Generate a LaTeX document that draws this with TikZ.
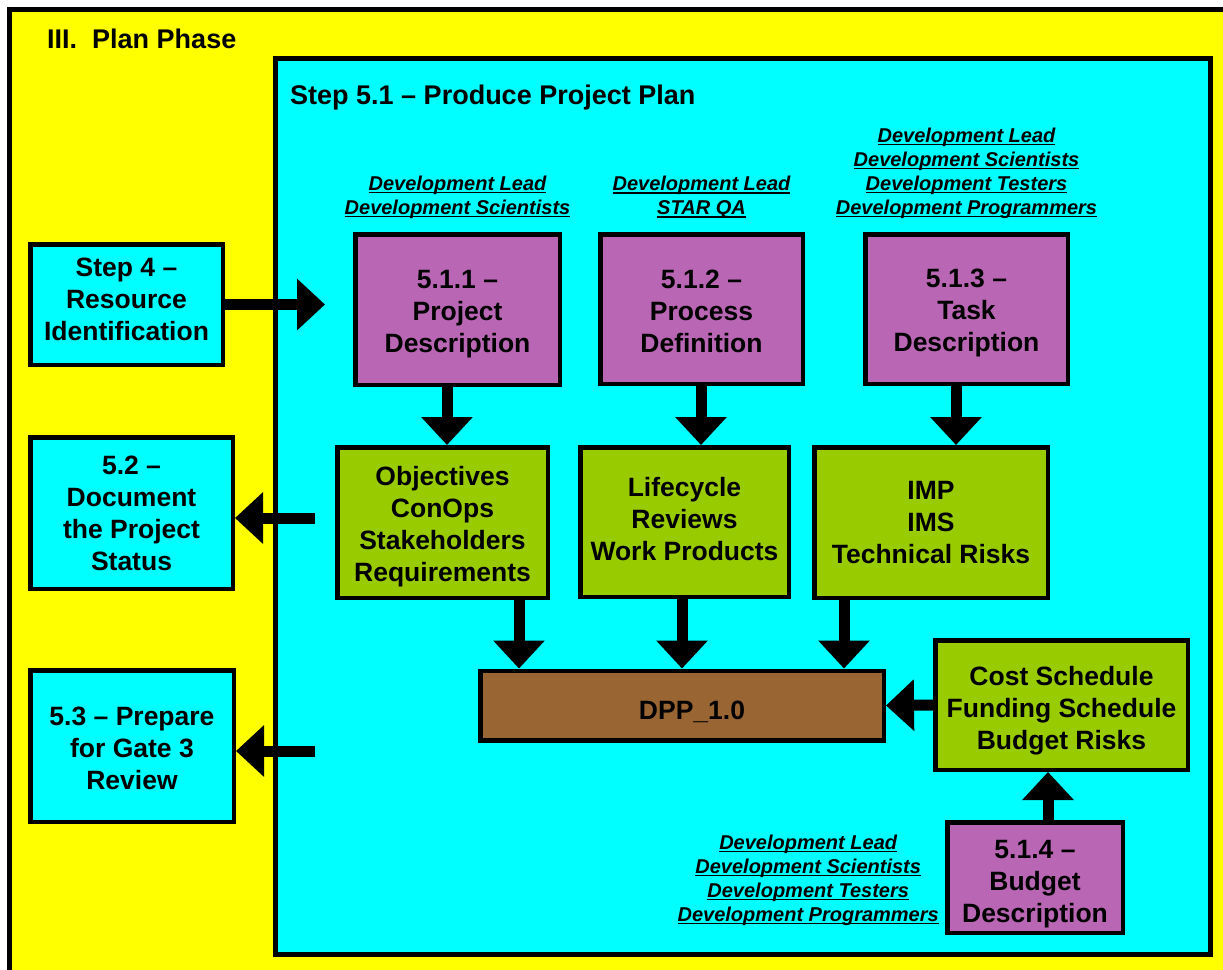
\documentclass[tikz,border=0pt]{standalone}
\usepackage{fontspec}
\setmainfont{Liberation Sans}
\usetikzlibrary{arrows.meta,positioning}
\definecolor{cyanbg}{HTML}{00FFFF}
\definecolor{yel}{HTML}{FFFF00}
\definecolor{purp}{HTML}{B966B4}
\definecolor{grn}{HTML}{99CC00}
\definecolor{brn}{HTML}{996633}
\newcommand\bxfont{\fontsize{26.5}{32}\selectfont\bfseries}
\newcommand\lbfont{\fontsize{20}{24}\selectfont\bfseries\itshape}
\newsavebox\ulbox
\newcommand\ul[1]{\sbox\ulbox{#1}\rlap{\rule[-2.8pt]{\wd\ulbox}{1.6pt}}\usebox\ulbox}
% strut raising the first line's height (pushes text down)
\newcommand\tp[1]{\rule{0pt}{#1}}
% strut adding depth to the last line (pushes text up)
\newcommand\bt[1]{\rule[-#1]{0pt}{#1}}
\tikzset{
  bx/.style={draw=black, line width=4.5pt, align=center, inner sep=2pt, font=\bxfont},
  cbox/.style={bx, fill=cyanbg},
  pbox/.style={bx, fill=purp},
  gbox/.style={bx, fill=grn},
  bbox/.style={bx, fill=brn},
  lbl/.style={align=center, inner sep=0pt, font=\lbfont},
  fat/.style={line width=11pt, -{Triangle[length=28pt,width=50pt]}},
}
\begin{document}
\begin{tikzpicture}[x=1pt,y=-1pt]
\useasboundingbox (0,0) rectangle (1223,969);
\fill[white] (0,0) rectangle (1223,969);
\clip (0,0) rectangle (1223,969);
% outer phase frame
\draw[fill=yel, line width=5pt] (9.5,9.5) rectangle (1240,990);
\node[anchor=base west, inner sep=0pt, font=\fontsize{27}{32}\selectfont\bfseries] (title) at (47,48) {III.\ \ Plan Phase};
% step frame
\draw[fill=cyanbg, line width=5pt] (275.5,58.5) rectangle (1210.5,954.5);
\node[anchor=base west, inner sep=0pt, font=\fontsize{27}{32}\selectfont\bfseries] (steptitle) at (290,104) {Step 5.1 -- Produce Project Plan};

% left boxes
\node[cbox, minimum width=192.5pt, minimum height=120.5pt] (step4) at (126.5,304.5) {Step 4 --\\Resource\\Identification\bt{10pt}};
\node[cbox, minimum width=202.5pt, minimum height=151.5pt] (s52) at (131.5,513) {5.2 --\\Document\\the Project\\Status};
\node[cbox, minimum width=203.5pt, minimum height=151.5pt] (s53) at (132,746) {\tp{23pt}5.3 -- Prepare\\for Gate 3\\Review};

% purple task boxes
\node[pbox, minimum width=204.5pt, minimum height=150.5pt] (p511) at (457.5,309.5) {\tp{28pt}5.1.1 --\\Project\\Description};
\node[pbox, minimum width=202.5pt, minimum height=149.5pt] (p512) at (701.5,309) {\tp{23pt}5.1.2 --\\Process\\Definition};
\node[pbox, minimum width=202.5pt, minimum height=149.5pt] (p513) at (966.5,309) {\tp{27pt}5.1.3 --\\Task\\Description};
\node[pbox, minimum width=175.5pt, minimum height=110.5pt] (p514) at (1035,877.5) {\tp{31pt}5.1.4 --\\Budget\\Description};

% role labels
\node[lbl, above=13pt of p511] (l511) {\ul{Development Lead}\\\ul{Development Scientists}};
\node[lbl, above=13pt of p512] (l512) {\ul{Development Lead}\\\ul{STAR QA}};
\node[lbl, above=13pt of p513] (l513) {\ul{Development Lead}\\\ul{Development Scientists}\\\ul{Development Testers}\\\ul{Development Programmers}};
\node[lbl, left=6pt of p514, yshift=-3pt] (l514) {\ul{Development Lead}\\\ul{Development Scientists}\\\ul{Development Testers}\\\ul{Development Programmers}};

% green product boxes
\node[gbox, minimum width=210.5pt, minimum height=150.5pt] (g1) at (442.5,522.5) {\tp{27.5pt}Objectives\\ConOps\\Stakeholders\\Requirements};
\node[gbox, minimum width=208.5pt, minimum height=149.5pt] (g2) at (684.5,522) {Lifecycle\\Reviews\\Work Products\bt{6pt}};
\node[gbox, minimum width=233.5pt, minimum height=150.5pt] (g3) at (931,522.5) {IMP\\IMS\\Technical Risks};
\node[gbox, minimum width=252.5pt, minimum height=129.5pt] (cost) at (1061.5,705) {\tp{31.5pt}Cost Schedule\\Funding Schedule\\Budget Risks};

% DPP
\node[bbox, minimum width=403.5pt, minimum height=69.5pt] (dpp) at (682,705.5) {\hspace*{20pt}\tp{31pt}DPP\_1.0};

% free ends
\coordinate (in4) at (325,304.5);
\coordinate (o52) at (315,518);
\coordinate (o53) at (315,751);

% connectors
\draw[fat] (step4.east) -- (in4);
\draw[fat] (o52) -- (o52 -| s52.east);
\draw[fat] (o53) -- (o53 -| s53.east);
\draw[fat] (p511.south -| 447,0) -- (447,0 |- g1.north);
\draw[fat] (p512.south -| 701,0) -- (701,0 |- g2.north);
\draw[fat] (p513.south -| 956,0) -- (956,0 |- g3.north);
\draw[fat] (g1.south -| 519,0) -- (519,0 |- dpp.north);
\draw[fat] (g2.south -| 682,0) -- (682,0 |- dpp.north);
\draw[fat] (g3.south -| 844,0) -- (844,0 |- dpp.north);
\draw[fat] (cost.west) -- (dpp.east);
\draw[fat] (p514.north -| 1048,0) -- (1048,0 |- cost.south);
\end{tikzpicture}
\end{document}
